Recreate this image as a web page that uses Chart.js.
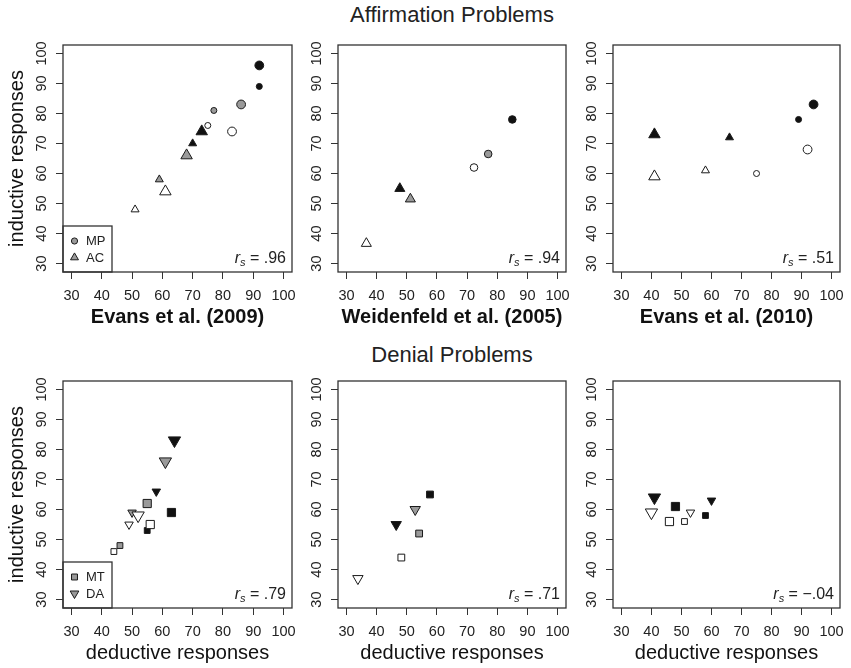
<!DOCTYPE html>
<html>
<head>
<meta charset="utf-8">
<script src="https://cdn.jsdelivr.net/npm/chart.js@4.4.1/dist/chart.umd.min.js"></script>
<style>
  html, body { margin: 0; padding: 0; background: #fff; }
  #fig { position: relative; width: 851px; height: 668px; overflow: hidden;
         font-family: "Liberation Sans", Arial, sans-serif; color: #222; }
  #fig canvas { position: absolute; }
  .main { position: absolute; left: 252px; width: 400px; text-align: center;
          font-size: 22px; line-height: 26px; color: #222; }
  .rs { position: absolute; font-size: 16px; line-height: 20px; white-space: nowrap; color: #222; }
  .rs sub { font-size: 11px; line-height: 0; vertical-align: -3px; }
</style>
</head>
<body>
<div id="fig">
  <div class="main" style="top:2px">Affirmation Problems</div>
  <div class="main" style="top:342px">Denial Problems</div>
</div>
<script>
// ---- data ----
const tickValues = [30, 40, 50, 60, 70, 80, 90, 100];
const sourceNames = ['Evans et al. (2009)', 'Weidenfeld et al. (2005)', 'Evans et al. (2010)'];
const rsAffirm = ['.96', '.94', '.51'];
const rsDenial = ['.79', '.71', '\u2212.04'];
const legendAffirm = ['MP', 'AC'];
const legendDenial = ['MT', 'DA'];

// conditions: level (high / mid / low) and set (1 / 2)
const condsEv09 = ['high/1', 'high/2', 'mid/1', 'mid/2', 'low/1', 'low/2'];
const condsWe05 = ['high', 'mid', 'low'];
const condsEv10 = ['high/1', 'high/2', 'low/1', 'low/2'];

// affirmation problems: x = deductive, y = inductive (%)
const ev09MPx = [92, 92, 86, 77, 83, 75];
const ev09MPy = [96, 89, 83, 81, 74, 76];
const ev09ACx = [73, 70, 68, 59, 61, 51];
const ev09ACy = [74, 70, 66, 58, 54, 48];
const we05MPx = [85, 77, 72.3];
const we05MPy = [78, 66.5, 62];
const we05ACx = [47.7, 51.2, 36.6];
const we05ACy = [55, 51.5, 36.7];
const ev10MPx = [94, 89, 92, 75];
const ev10MPy = [83, 78, 68, 60];
const ev10ACx = [41, 66, 41, 58];
const ev10ACy = [73, 72, 59, 61];

// denial problems
const ev09MTx = [63, 55, 55, 46, 56, 44];
const ev09MTy = [59, 53, 62, 48, 55, 46];
const ev09DAx = [64, 58, 61, 50, 52, 49];
const ev09DAy = [83, 66, 76, 59, 58, 55];
const we05MTx = [57.7, 54.1, 48.2];
const we05MTy = [65, 52, 44];
const we05DAx = [46.5, 52.8, 33.8];
const we05DAy = [55, 60, 37];
const ev10MTx = [48, 58, 46, 51];
const ev10MTy = [61, 58, 56, 56];
const ev10DAx = [41, 60, 40, 53];
const ev10DAy = [64, 63, 59, 59];

// ---- styling ----
const FONT = '"Liberation Sans", Arial, sans-serif';
const shadeOf = { high: '#111111', mid: '#9a9a9a', low: '#ffffff' };
const radiusOf = {
  circle:   { L: 4.4, S: 3.0, M: 3.8 },
  triangle: { L: 6.6, S: 4.6, M: 5.8 },
  rect:     { L: 5.8, S: 4.1, M: 4.8 },
  down:     { L: 7.1, S: 4.9, M: 6.0 }
};

function makeDataset(xs, ys, conds, shape) {
  const sizes = conds.map(function(c) {
    const s = c.split('/')[1];
    return s === '1' ? 'L' : (s === '2' ? 'S' : 'M');
  });
  return {
    data: xs.map(function(x, i) { return { x: x, y: ys[i] }; }),
    pointStyle: shape === 'down' ? 'triangle' : shape,
    pointRotation: shape === 'down' ? 180 : 0,
    pointRadius: sizes.map(function(s) { return radiusOf[shape][s]; }),
    pointBackgroundColor: conds.map(function(c) { return shadeOf[c.split('/')[0]]; }),
    pointBorderColor: '#1a1a1a',
    pointBorderWidth: 1,
    showLine: false
  };
}

function shapePath(ctx, shape, x, y, r) {
  ctx.beginPath();
  if (shape === 'circle') {
    ctx.arc(x, y, r, 0, Math.PI * 2);
  } else if (shape === 'rect') {
    const s = r * Math.SQRT1_2;
    ctx.rect(x - s, y - s, 2 * s, 2 * s);
  } else {
    const dir = shape === 'down' ? -1 : 1;
    for (let k = 0; k < 3; k++) {
      const a = k * 2 * Math.PI / 3;
      const px = x + Math.sin(a) * r, py = y - dir * Math.cos(a) * r;
      if (k === 0) ctx.moveTo(px, py); else ctx.lineTo(px, py);
    }
    ctx.closePath();
  }
}

// box round the plot region + legend box
const framePlugin = {
  id: 'frame',
  beforeDatasetsDraw: function(chart) {
    const a = chart.chartArea, ctx = chart.ctx;
    ctx.save();
    ctx.strokeStyle = '#333';
    ctx.lineWidth = 1.3;
    ctx.strokeRect(a.left, a.top, a.right - a.left, a.bottom - a.top);
    ctx.restore();
  },
  afterDraw: function(chart, args, opts) {
    if (!opts.labels) return;
    const a = chart.chartArea, ctx = chart.ctx;
    ctx.save();
    ctx.strokeStyle = '#333';
    ctx.lineWidth = 1.3;
    ctx.strokeRect(a.left, a.bottom - 46, 49, 46);
    opts.labels.forEach(function(lab, i) {
      const y = a.bottom - 31 + i * 16.5;
      const shape = opts.shapes[i];
      shapePath(ctx, shape, a.left + 11.5, y, opts.radii[i]);
      ctx.fillStyle = '#9a9a9a';
      ctx.fill();
      ctx.lineWidth = 1;
      ctx.strokeStyle = '#1a1a1a';
      ctx.stroke();
      ctx.fillStyle = '#222';
      ctx.font = '13px ' + FONT;
      ctx.textBaseline = 'middle';
      ctx.fillText(lab, a.left + 23, y + 0.5);
    });
    ctx.restore();
  }
};

const panels = [
  { box: [63, 45, 292, 272], sets: [[ev09MPx, ev09MPy, 'circle'], [ev09ACx, ev09ACy, 'triangle']], conds: condsEv09,
    xTitle: sourceNames[0], bold: true, yTitle: true, rs: rsAffirm[0],
    legend: { labels: legendAffirm, shapes: ['circle', 'triangle'], radii: [3.1, 4.6] } },
  { box: [338, 45, 566, 272], sets: [[we05MPx, we05MPy, 'circle'], [we05ACx, we05ACy, 'triangle']], conds: condsWe05,
    xTitle: sourceNames[1], bold: true, yTitle: false, rs: rsAffirm[1] },
  { box: [613, 45, 840, 272], sets: [[ev10MPx, ev10MPy, 'circle'], [ev10ACx, ev10ACy, 'triangle']], conds: condsEv10,
    xTitle: sourceNames[2], bold: true, yTitle: false, rs: rsAffirm[2] },
  { box: [63, 381, 292, 608], sets: [[ev09MTx, ev09MTy, 'rect'], [ev09DAx, ev09DAy, 'down']], conds: condsEv09,
    xTitle: 'deductive responses', bold: false, yTitle: true, rs: rsDenial[0],
    legend: { labels: legendDenial, shapes: ['rect', 'down'], radii: [4.2, 5.0] } },
  { box: [338, 381, 566, 608], sets: [[we05MTx, we05MTy, 'rect'], [we05DAx, we05DAy, 'down']], conds: condsWe05,
    xTitle: 'deductive responses', bold: false, yTitle: false, rs: rsDenial[1] },
  { box: [613, 381, 840, 608], sets: [[ev10MTx, ev10MTy, 'rect'], [ev10DAx, ev10DAy, 'down']], conds: condsEv10,
    xTitle: 'deductive responses', bold: false, yTitle: false, rs: rsDenial[2] }
];

const fig = document.getElementById('fig');
const Y_AXIS_W = 63, X_AXIS_H = 60, PAD = { left: 0, top: 15, right: 16, bottom: 4 };

panels.forEach(function(p) {
  const L = p.box[0], T = p.box[1], R = p.box[2], B = p.box[3];
  const cv = document.createElement('canvas');
  const w = Y_AXIS_W + (R - L) + PAD.right, h = PAD.top + (B - T) + X_AXIS_H + PAD.bottom;
  cv.width = w; cv.height = h;
  cv.style.left = (L - Y_AXIS_W) + 'px';
  cv.style.top = (T - PAD.top) + 'px';
  cv.style.width = w + 'px'; cv.style.height = h + 'px';
  fig.appendChild(cv);

  const tickSetup = function(scale) {
    scale.ticks = tickValues.map(function(v) { return { value: v }; });
  };
  const grid = { display: true, drawOnChartArea: false, drawTicks: true, tickLength: 7, color: '#333', lineWidth: 1 };

  new Chart(cv, {
    type: 'scatter',
    data: { datasets: p.sets.map(function(s) { return makeDataset(s[0], s[1], p.conds, s[2]); }) },
    options: {
      responsive: false,
      animation: false,
      events: [],
      layout: { padding: PAD },
      plugins: {
        legend: { display: false },
        tooltip: { enabled: false },
        frame: p.legend || {}
      },
      scales: {
        x: {
          type: 'linear', min: 27.2, max: 102.8,
          afterBuildTicks: tickSetup,
          afterFit: function(s) { s.height = X_AXIS_H; },
          grid: grid, border: { display: false },
          ticks: { padding: 8, color: '#222', font: { family: FONT, size: 14.5 }, maxRotation: 0, autoSkip: false },
          title: { display: true, text: p.xTitle, color: '#111', padding: { top: 0, bottom: 3 },
                   font: { family: FONT, size: 20, weight: p.bold ? 'bold' : 'normal', lineHeight: 1.2 } }
        },
        y: {
          type: 'linear', min: 27.2, max: 102.8,
          afterBuildTicks: tickSetup,
          afterFit: function(s) { s.width = Y_AXIS_W; },
          grid: grid, border: { display: false },
          ticks: { padding: 2, color: '#222', font: { family: FONT, size: 14.5 }, minRotation: 90, maxRotation: 90,
                   crossAlign: 'center', autoSkip: false },
          title: { display: p.yTitle, text: 'inductive responses', color: '#111', padding: { top: 5, bottom: 0 },
                   font: { family: FONT, size: 20, lineHeight: 1.2 } }
        }
      }
    },
    plugins: [framePlugin]
  });

  const rs = document.createElement('div');
  rs.className = 'rs';
  rs.style.right = (851 - (R - 6)) + 'px';
  rs.style.top = (B - 14 - 10) + 'px';
  rs.innerHTML = '<i>r</i><sub><i>s</i></sub> = ' + p.rs;
  fig.appendChild(rs);
});
</script>
</body>
</html>
